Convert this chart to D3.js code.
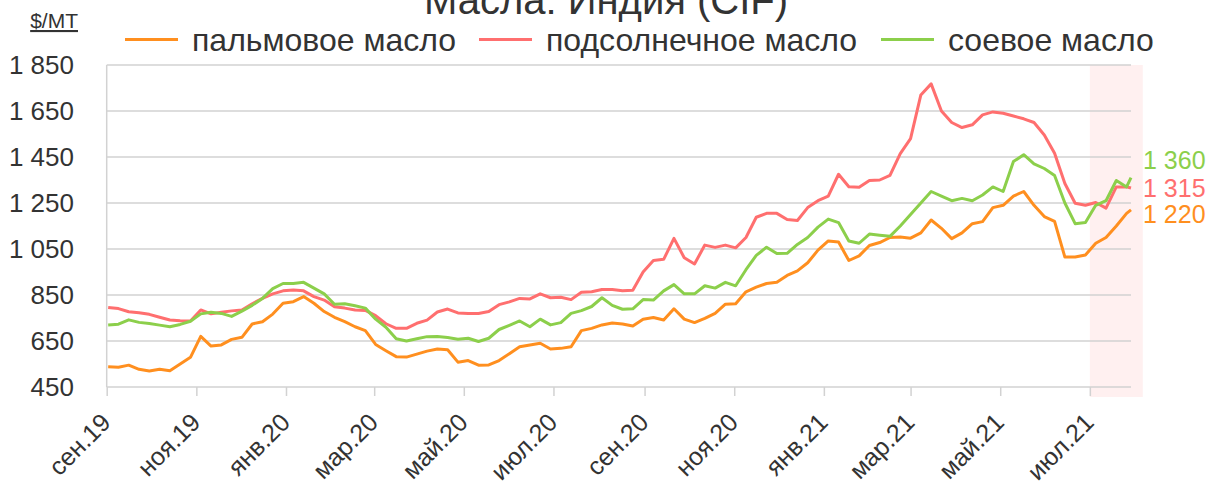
<!DOCTYPE html>
<html><head><meta charset="utf-8">
<script src="https://cdn.jsdelivr.net/npm/d3@7/dist/d3.min.js"></script>
<style>
html,body{margin:0;padding:0;background:#fff;}
svg{display:block;font-family:"Liberation Sans",Arial,Helvetica,sans-serif;}
</style></head>
<body><svg id="chart" width="1212" height="490"></svg>
<script>
// ---- data ----
const title = "Масла: Индия (CIF)";
const unitLabel = "$/MT";
const seriesNames = ["пальмовое масло", "подсолнечное масло", "соевое масло"];
const seriesColors = ["#ff8f1f", "#ff6f6f", "#8ccf4b"];
const firstWeek = "2019-09-02";   // weekly observations from this date
const lastDate = "2021-07-29";    // final observation
const palm = [538,536,545,527,520,527,521,550,579,670,628,633,657,666,724,734,767,814,821,843,814,778,753,734,712,695,
  635,608,582,580,593,606,615,612,558,565,545,546,565,595,625,633,640,615,618,625,695,705,720,728,724,
  715,745,752,741,790,745,730,748,770,810,812,864,884,900,905,935,955,990,1045,1085,1080,1000,1020,1065,1078,
  1100,1102,1097,1120,1176,1140,1095,1120,1160,1169,1230,1240,1280,1300,1240,1191,1170,1015,1015,1024,1075,1100,1150,1205,
  1220];
const sunflower = [796,791,777,773,766,753,741,738,737,785,768,775,781,785,812,835,855,868,872,868,843,828,799,793,785,783,
  760,725,705,705,727,741,776,789,772,770,770,778,808,820,835,833,855,838,840,830,862,864,874,874,868,
  871,950,1000,1005,1096,1012,985,1067,1057,1067,1055,1100,1188,1205,1205,1178,1174,1230,1260,1280,1375,1321,1318,1348,1350,
  1370,1465,1530,1720,1768,1650,1600,1578,1590,1633,1646,1640,1628,1616,1600,1546,1466,1335,1249,1240,1252,1228,1320,1320,
  1315];
const soybean = [720,723,742,731,726,719,712,722,736,768,775,770,757,780,805,835,878,900,900,905,880,855,810,812,803,793,
  745,710,660,650,660,669,670,665,658,662,648,662,700,718,737,712,745,720,730,770,782,800,838,805,788,
  790,830,828,868,895,855,855,890,880,905,890,960,1022,1058,1030,1031,1070,1100,1145,1180,1165,1085,1075,1115,1110,
  1105,1150,1200,1250,1300,1280,1260,1270,1260,1285,1320,1300,1430,1460,1420,1400,1370,1250,1160,1165,1240,1260,1348,1320,
  1360];
const yTicks = [450,650,850,1050,1250,1450,1650,1850];
const xTickDates = ["2019-09-01","2019-11-01","2020-01-01","2020-03-01","2020-05-01","2020-07-01",
  "2020-09-01","2020-11-01","2021-01-01","2021-03-01","2021-05-01","2021-07-01"];
const xTickLabels = ["сен.19","ноя.19","янв.20","мар.20","май.20","июл.20",
  "сен.20","ноя.20","янв.21","мар.21","май.21","июл.21"];
const highlightStart = "2021-07-01";
const highlightEnd = "2021-08-06";

// ---- setup ----
const parse = d3.timeParse("%Y-%m-%d");
const dates = d3.range(palm.length - 1).map(i => d3.timeDay.offset(parse(firstWeek), 7 * i));
dates.push(parse(lastDate));
const allSeries = [palm, sunflower, soybean];

const ru = d3.formatLocale({decimal: ",", thousands: "\u00a0", grouping: [3], currency: ["", ""]});
const fmt = ru.format(",d");

const svg = d3.select("#chart");
const x = d3.scaleTime().domain([parse("2019-09-01"), parse("2021-07-29")]).range([106.7, 1131]);
const y = d3.scaleLinear().domain([450, 1850]).range([387, 65]);
const textColor = "#333";
const gridColor = "#d2d2d2";

// highlight band
svg.append("rect")
  .attr("x", x(parse(highlightStart))).attr("y", 65)
  .attr("width", x(parse(highlightEnd)) - x(parse(highlightStart)))
  .attr("height", 332)
  .attr("fill", "#fff0f0");

// gridlines
svg.append("g").selectAll("line").data(yTicks).join("line")
  .attr("x1", x.range()[0]).attr("x2", x.range()[1])
  .attr("y1", d => y(d)).attr("y2", d => y(d))
  .attr("stroke", gridColor).attr("stroke-width", 1.5);

// left axis line
svg.append("line").attr("x1", x.range()[0]).attr("x2", x.range()[0])
  .attr("y1", y(1850)).attr("y2", y(450)).attr("stroke", gridColor).attr("stroke-width", 1.5);

// y labels
svg.append("g").selectAll("text").data(yTicks).join("text")
  .attr("x", 74).attr("y", d => y(d)).attr("dy", "0.36em")
  .attr("text-anchor", "end").attr("font-size", 26).attr("fill", textColor)
  .text(d => fmt(d));

// x axis
const xg = svg.append("g").attr("transform", `translate(0,${y(450)})`)
  .call(d3.axisBottom(x).tickValues(xTickDates.map(parse)).tickSize(9).tickFormat((d, i) => xTickLabels[i]));
xg.select(".domain").remove();
xg.selectAll(".tick line").attr("stroke", gridColor).attr("stroke-width", 1.5);
xg.selectAll(".tick text")
  .attr("font-size", 25).attr("fill", textColor).attr("font-family", "Liberation Sans, Arial, sans-serif")
  .attr("text-anchor", "end").attr("dy", null).attr("y", null)
  .attr("transform", "translate(5,37) rotate(-45)");

// lines
const line = d3.line().x((d, i) => x(dates[i])).y(d => y(d));
allSeries.forEach((s, k) => {
  svg.append("path").datum(s).attr("d", line)
    .attr("fill", "none").attr("stroke", seriesColors[k]).attr("stroke-width", 3)
    .attr("stroke-linejoin", "round");
});

// end labels
const endOffsets = [4, 0, -18];
allSeries.forEach((s, k) => {
  svg.append("text").attr("x", 1143).attr("y", y(s[s.length - 1]) + endOffsets[k]).attr("dy", "0.36em")
    .attr("font-size", 25).attr("fill", seriesColors[k]).text(fmt(s[s.length - 1]));
});

// title
svg.append("text").attr("x", 606).attr("y", 14).attr("text-anchor", "middle")
  .attr("font-size", 40).attr("fill", textColor).text(title);

// unit label
svg.append("text").attr("x", 78).attr("y", 28).attr("text-anchor", "end")
  .attr("font-size", 21).attr("fill", textColor).attr("text-decoration", "underline").text(unitLabel);

// legend
const legendX = [125, 479, 881];
seriesNames.forEach((n, k) => {
  const g = svg.append("g").attr("transform", `translate(${legendX[k]},0)`);
  g.append("line").attr("x1", 0).attr("x2", 53).attr("y1", 39.5).attr("y2", 39.5)
    .attr("stroke", seriesColors[k]).attr("stroke-width", 3);
  g.append("text").attr("x", 67).attr("y", 51).attr("font-size", 32).attr("fill", textColor).text(n);
});
</script></body></html>
